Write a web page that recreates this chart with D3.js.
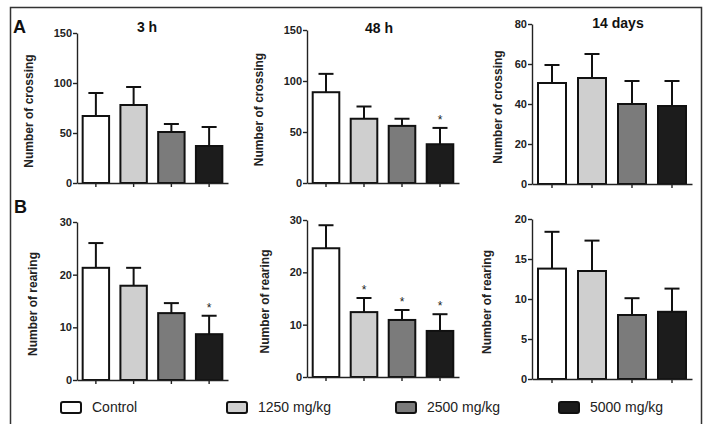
<!DOCTYPE html>
<html>
<head>
<meta charset="utf-8">
<script src="https://cdn.jsdelivr.net/npm/d3@7"></script>
<style>
  body { margin: 0; background: #fff; }
  svg { display: block; font-family: "Liberation Sans", Arial, sans-serif; }
</style>
</head>
<body>
<div id="chart"></div>
<script>
// Locomotor activity: crossing and rearing at 3 h, 48 h, 14 days

const groups = ["Control", "1250 mg/kg", "2500 mg/kg", "5000 mg/kg"];
const groupColors = ["#ffffff", "#cfcfcf", "#7b7b7b", "#1c1c1c"];

const crossing3h = [67, 78, 51, 37];
const crossing3hErr = [23, 18, 8, 19];
const crossing48h = [89, 63, 56, 38];
const crossing48hErr = [18, 12, 7, 16];
const crossing14d = [50.5, 53, 40, 39];
const crossing14dErr = [9, 12, 11.5, 12.5];

const rearing3h = [21.3, 17.9, 12.7, 8.7];
const rearing3hErr = [4.7, 3.4, 1.9, 3.5];
const rearing48h = [24.6, 12.4, 10.9, 8.8];
const rearing48hErr = [4.4, 2.7, 1.9, 3.2];
const rearing14d = [13.8, 13.5, 8.0, 8.4];
const rearing14dErr = [4.6, 3.8, 2.1, 2.9];

// significance marks (*) per bar
const sig3hCross = [false, false, false, false];
const sig48hCross = [false, false, false, true];
const sig14dCross = [false, false, false, false];
const sig3hRear = [false, false, false, true];
const sig48hRear = [false, true, true, true];
const sig14dRear = [false, false, false, false];

const crossingTicks = [0, 50, 100, 150];
const crossing14dTicks = [0, 20, 40, 60, 80];
const rearingTicks = [0, 10, 20, 30];
const rearing14dTicks = [0, 5, 10, 15, 20];

const titles = ["3 h", "48 h", "14 days"];

const width = 711, height = 424;

const svg = d3.select("#chart").append("svg")
    .attr("width", width)
    .attr("height", height);

// outer frame
svg.append("rect")
    .attr("x", 10.5).attr("y", 7.5)
    .attr("width", 691).attr("height", 430)
    .attr("fill", "none")
    .attr("stroke", "#333")
    .attr("stroke-width", 1.5);

const panels = [
    {vals: crossing3h, err: crossing3hErr, sig: sig3hCross, ticks: crossingTicks, max: 150,
     x0: 77, x1: 228, yTop: 33, y0: 183, label: "Number of crossing", labelX: 33, title: titles[0], titleX: 147, titleY: 32},
    {vals: crossing48h, err: crossing48hErr, sig: sig48hCross, ticks: crossingTicks, max: 150,
     x0: 307, x1: 459, yTop: 30, y0: 183, label: "Number of crossing", labelX: 263, title: titles[1], titleX: 379, titleY: 33},
    {vals: crossing14d, err: crossing14dErr, sig: sig14dCross, ticks: crossing14dTicks, max: 80,
     x0: 532, x1: 692, yTop: 24, y0: 184, label: "Number of crossing", labelX: 502, title: titles[2], titleX: 618, titleY: 28},
    {vals: rearing3h, err: rearing3hErr, sig: sig3hRear, ticks: rearingTicks, max: 30,
     x0: 77, x1: 228, yTop: 222, y0: 380, label: "Number of rearing", labelX: 37},
    {vals: rearing48h, err: rearing48hErr, sig: sig48hRear, ticks: rearingTicks, max: 30,
     x0: 307, x1: 459, yTop: 220, y0: 377, label: "Number of rearing", labelX: 269},
    {vals: rearing14d, err: rearing14dErr, sig: sig14dRear, ticks: rearing14dTicks, max: 20,
     x0: 532, x1: 692, yTop: 219, y0: 379, label: "Number of rearing", labelX: 491}
];

panels.forEach(p => {
    const g = svg.append("g");

    const x = d3.scaleBand()
        .domain(groups)
        .range([p.x0, p.x1])
        .paddingInner(0.3)
        .paddingOuter(0.15);

    const y = d3.scaleLinear()
        .domain([0, p.max])
        .range([p.y0, p.yTop]);

    const rows = groups.map((grp, i) => ({grp, v: p.vals[i], e: p.err[i], s: p.sig[i], c: groupColors[i]}));

    // bars
    g.selectAll("rect.bar")
        .data(rows)
        .join("rect")
        .attr("class", "bar")
        .attr("x", d => x(d.grp))
        .attr("y", d => y(d.v))
        .attr("width", x.bandwidth())
        .attr("height", d => y(0) - y(d.v))
        .attr("fill", d => d.c)
        .attr("stroke", "#111")
        .attr("stroke-width", 2);

    // error bars (upper only)
    const cx = d => x(d.grp) + x.bandwidth() / 2;
    g.selectAll("line.err")
        .data(rows)
        .join("line")
        .attr("class", "err")
        .attr("x1", cx).attr("x2", cx)
        .attr("y1", d => y(d.v))
        .attr("y2", d => y(d.v + d.e))
        .attr("stroke", "#111")
        .attr("stroke-width", 2);

    g.selectAll("line.cap")
        .data(rows)
        .join("line")
        .attr("class", "cap")
        .attr("x1", d => cx(d) - 7.5).attr("x2", d => cx(d) + 7.5)
        .attr("y1", d => y(d.v + d.e))
        .attr("y2", d => y(d.v + d.e))
        .attr("stroke", "#111")
        .attr("stroke-width", 2);

    // significance stars
    g.selectAll("text.sig")
        .data(rows.filter(d => d.s))
        .join("text")
        .attr("class", "sig")
        .attr("x", cx)
        .attr("y", d => y(d.v + d.e) - 4)
        .attr("text-anchor", "middle")
        .attr("font-size", 12)
        .attr("fill", "#222")
        .text("*");

    // y axis
    const yAxis = g.append("g")
        .attr("transform", `translate(${p.x0},0)`)
        .call(d3.axisLeft(y).tickValues(p.ticks).tickSize(4).tickPadding(1).tickSizeOuter(0));

    // x axis
    const xAxis = g.append("g")
        .attr("transform", `translate(0,${p.y0})`)
        .call(d3.axisBottom(x).tickSize(4).tickSizeOuter(0).tickFormat(""));

    [yAxis, xAxis].forEach(a => {
        a.select(".domain").attr("stroke", "#222").attr("stroke-width", 1.4);
        a.selectAll(".tick line").attr("stroke", "#222").attr("stroke-width", 1.4);
    });
    yAxis.selectAll(".tick text")
        .attr("font-size", 11)
        .attr("font-weight", "bold")
        .attr("fill", "#222")
        .attr("font-family", "'Liberation Sans', Arial, sans-serif");

    // y axis title
    g.append("text")
        .attr("transform", `translate(${p.labelX},${(p.y0 + p.yTop) / 2 + 3}) rotate(-90)`)
        .attr("text-anchor", "middle")
        .attr("font-size", 12)
        .attr("font-weight", "bold")
        .attr("fill", "#222")
        .text(p.label);

    if (p.title) {
        g.append("text")
            .attr("x", p.titleX)
            .attr("y", p.titleY)
            .attr("text-anchor", "middle")
            .attr("font-size", 14)
            .attr("font-weight", "bold")
            .attr("fill", "#111")
            .text(p.title);
    }
});

// panel letters
svg.append("text").attr("x", 13).attr("y", 33)
    .attr("font-size", 18).attr("font-weight", "bold").attr("fill", "#111").text("A");
svg.append("text").attr("x", 14).attr("y", 213)
    .attr("font-size", 18).attr("font-weight", "bold").attr("fill", "#111").text("B");

// legend
const legendX = [60, 226, 395, 558];
const legend = svg.append("g");
groups.forEach((grp, i) => {
    legend.append("rect")
        .attr("x", legendX[i] + 1).attr("y", 402)
        .attr("width", 20).attr("height", 11)
        .attr("rx", 2)
        .attr("fill", groupColors[i])
        .attr("stroke", "#111")
        .attr("stroke-width", 2);
    legend.append("text")
        .attr("x", legendX[i] + 32)
        .attr("y", 412)
        .attr("font-size", 14)
        .attr("fill", "#222")
        .text(grp);
});
</script>
</body>
</html>
